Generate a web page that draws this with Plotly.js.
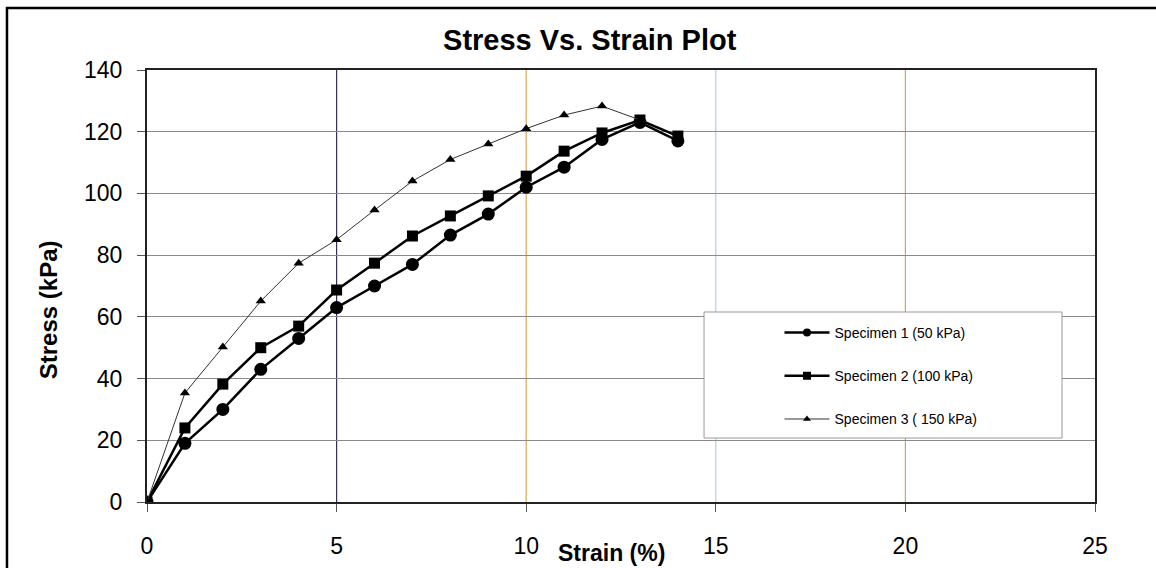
<!DOCTYPE html>
<html><head><meta charset="utf-8">
<script src="https://cdn.plot.ly/plotly-3.0.1.min.js"></script>
<style>html,body{margin:0;padding:0;background:#fff}#chart{width:1156px;height:568px}</style>
</head><body><div id="chart"></div>
<script>
const strain1 = [0,1,2,3,4,5,6,7,8,9,10,11,12,13,14];
const stress1 = [0,19,30,43,53,63,70,77,86.5,93.3,102,108.5,117.5,123,117];
const strain2 = [0,1,2,3,4,5,6,7,8,9,10,11,12,13,14];
const stress2 = [0,24,38.2,50,57,68.7,77.4,86.2,92.7,99.2,105.6,113.7,119.6,123.8,118.6];
const strain3 = [0,1,2,3,4,5,6,7,8,9,10,11,12,13];
const stress3 = [0,35.3,50.2,65.1,77.4,85,94.6,104,111,116,121,125.4,128.3,123.8];
const names = ["Specimen 1 (50 kPa)","Specimen 2 (100 kPa)","Specimen 3 ( 150 kPa)"];
const xTicks = [0,5,10,15,20,25];
const yTicks = [0,20,40,60,80,100,120,140];
const vGridX = [5,10,15,20];
const vGridColors = ["#3b2d5c","#d9a55a","#a9d2ee","#e2a24a"];

const styles = [
  {line:{color:"#000",width:2.5},sym:"circle",size:13,lsize:8},
  {line:{color:"#000",width:2.5},sym:"square",size:11,lsize:8},
  {line:{color:"#333",width:1},sym:"triangle-up",size:9,lsize:7}
];
const xs = [strain1,strain2,strain3], ys = [stress1,stress2,stress3];
const traces = [];
xs.forEach((x,i)=>{
  traces.push({x:x,y:ys[i],name:names[i],mode:"lines+markers",showlegend:false,
    line:styles[i].line,marker:{symbol:styles[i].sym,size:styles[i].size,color:"#000"}});
});
names.forEach((n,i)=>{
  traces.push({x:[null],y:[null],name:n,mode:"lines+markers",showlegend:true,legendgroup:"g"+i,
    line:styles[i].line,marker:{symbol:styles[i].sym,size:styles[i].lsize,color:"#000"}});
});

const shapes = vGridX.map((v,i)=>({type:"line",xref:"x",yref:"paper",x0:v,x1:v,y0:0,y1:1,
  line:{color:vGridColors[i],width:1.2},layer:"below"}));
shapes.push({type:"rect",xref:"paper",yref:"paper",x0:-0.1477,x1:1.08,y0:-0.2,y1:1.1435,
  line:{color:"#000",width:2.5},fillcolor:"rgba(0,0,0,0)"});
shapes.push({type:"rect",xref:"paper",yref:"paper",x0:0.5876,x1:0.9652,y0:0.1481,y1:0.4398,
  line:{color:"#999",width:1},fillcolor:"#fff",layer:"above"});

const layout = {
  width:1156,height:568,
  margin:{l:147,r:61,t:70,b:66},
  paper_bgcolor:"#fff",plot_bgcolor:"#fff",
  font:{family:"Liberation Sans, Arial, sans-serif",color:"#000"},
  title:{text:"<b>Stress Vs. Strain Plot</b>",font:{size:29},x:0.467,xref:"paper",xanchor:"center",y:0.93,yref:"container",yanchor:"middle"},
  xaxis:{range:[0,25],tickvals:xTicks,ticks:"outside",ticklen:8,tickcolor:"#555",
    showgrid:false,zeroline:false,showline:true,mirror:true,linecolor:"#222",linewidth:2,
    tickfont:{size:23},ticklabelstandoff:14},
  yaxis:{range:[0,140],tickvals:yTicks,ticks:"outside",ticklen:8,tickcolor:"#555",
    showgrid:true,gridcolor:"#8a8a8a",gridwidth:1,zeroline:false,showline:true,mirror:true,
    linecolor:"#222",linewidth:2,tickfont:{size:23},ticklabelstandoff:10},
  showlegend:true,
  legend:{x:0.6672,y:0.2917,xanchor:"left",yanchor:"middle",bgcolor:"rgba(0,0,0,0)",
    borderwidth:0,font:{size:14},itemwidth:45,tracegroupgap:22},
  shapes:shapes,
  annotations:[
    {text:"<b>Strain (%)</b>",xref:"paper",yref:"paper",x:0.4895,y:-0.118,
     xanchor:"center",yanchor:"middle",showarrow:false,font:{size:23}},
    {text:"<b>Stress (kPa)</b>",xref:"paper",yref:"paper",x:-0.1044,y:0.444,textangle:-90,
     xanchor:"center",yanchor:"middle",showarrow:false,font:{size:24}}
  ]
};
Plotly.newPlot("chart",traces,layout,{displayModeBar:false,staticPlot:true});
</script></body></html>
